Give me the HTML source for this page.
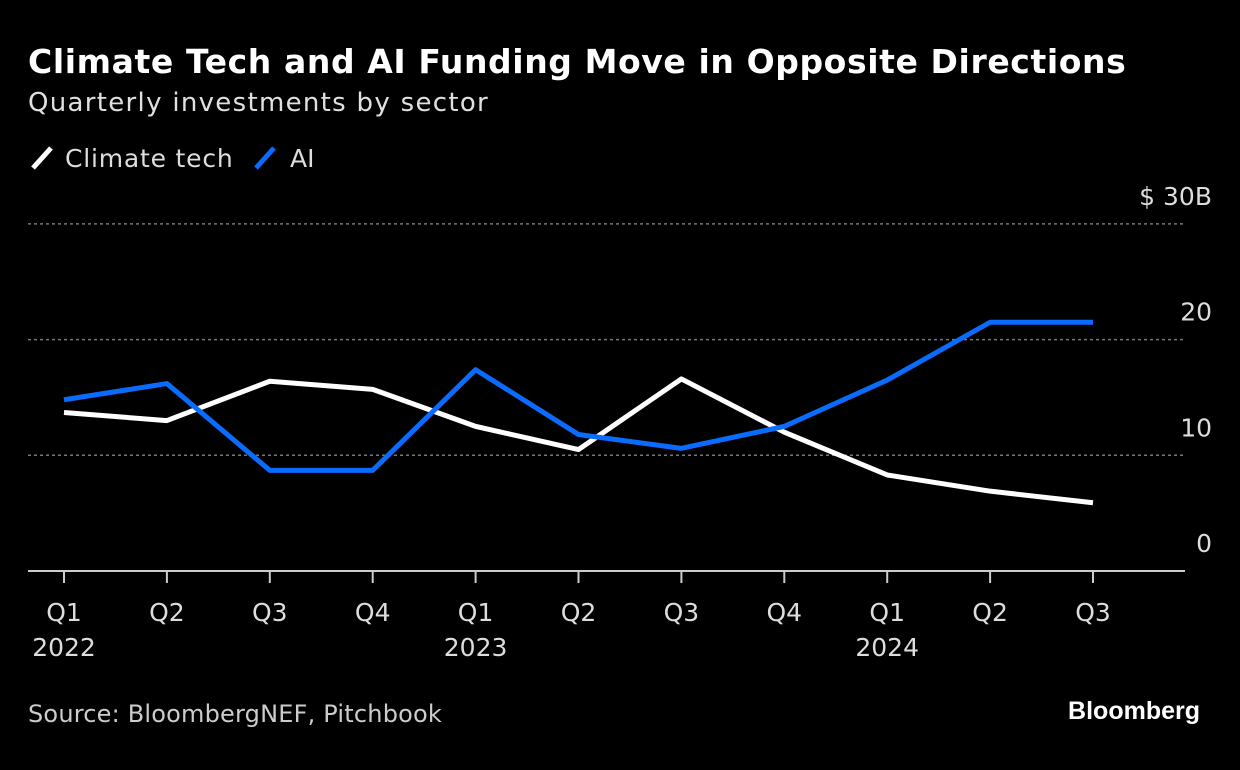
<!DOCTYPE html>
<html><head><meta charset="utf-8"><style>
body{margin:0;background:#000;width:1240px;height:770px;overflow:hidden;font-family:"Liberation Sans","DejaVu Sans",sans-serif;color:#fff}
</style></head><body>
<svg width="1240" height="770" style="position:absolute;left:0;top:0">
<text x="28" y="73" font-size="33" font-weight="bold" fill="#fff" letter-spacing="0.6" font-family="DejaVu Sans, sans-serif">Climate Tech and AI Funding Move in Opposite Directions</text>
<text x="28" y="111" font-size="26" fill="#e0e0e0" letter-spacing="1.3" font-family="DejaVu Sans, sans-serif">Quarterly investments by sector</text>
<g font-family="DejaVu Sans, sans-serif" font-size="25" fill="#ddd">
<line x1="33" y1="168" x2="51" y2="148" stroke="#fff" stroke-width="5"/>
<text x="65" y="167" letter-spacing="0.8">Climate tech</text>
<line x1="256" y1="168" x2="274" y2="148" stroke="#0a6cff" stroke-width="5"/>
<text x="290" y="167">AI</text>
</g>
<g id="grid"></g><g id="xaxis"></g><g id="lines"></g>
<text x="28" y="722" font-size="24" fill="#ccc" letter-spacing="0.2" font-family="DejaVu Sans, sans-serif">Source: BloombergNEF, Pitchbook</text>
<text x="1200" y="719" font-size="25" font-weight="bold" fill="#fff" text-anchor="end">Bloomberg</text>
</svg>
<script>
const quarters=["Q1","Q2","Q3","Q4","Q1","Q2","Q3","Q4","Q1","Q2","Q3"];
const years=["2022","","","","2023","","","","2024","",""];
const climate=[13.7,13.0,16.4,15.7,12.5,10.5,16.6,12.0,8.3,6.9,5.9];
const ai=[14.8,16.2,8.7,8.7,17.4,11.8,10.6,12.5,16.5,21.5,21.5];
const yTicks=[0,10,20,30];
const yLabels=["0","10","20","$ 30B"];
const NS="http://www.w3.org/2000/svg";
const x=i=>64+i*102.9;
const y=v=>571-v*11.57;
function mk(t,a,p){const e=document.createElementNS(NS,t);for(const k in a)e.setAttribute(k,a[k]);p.appendChild(e);return e;}
const grid=document.getElementById('grid');
yTicks.forEach((t,i)=>{
  if(t>0){const l=mk('line',{x1:28,x2:1185,y1:y(t),y2:y(t),stroke:'#777','stroke-width':1.5,'stroke-dasharray':'3,3'},grid);
  
  }
  const tx=mk('text',{x:1212,y:y(t)-19,'font-size':25,fill:'#ddd','text-anchor':'end','font-family':'DejaVu Sans, sans-serif'},grid);
  tx.textContent=yLabels[i];
  
  
});
const xa=document.getElementById('xaxis');
const base=mk('line',{x1:28,x2:1185,y1:571,y2:571,stroke:'#ccc','stroke-width':2},xa);


quarters.forEach((q,i)=>{
  const tk=mk('line',{x1:x(i),x2:x(i),y1:571,y2:583,stroke:'#ccc','stroke-width':2},xa);
  
  
  const t=mk('text',{x:x(i),y:621,'font-size':25,fill:'#ddd','text-anchor':'middle','font-family':'DejaVu Sans, sans-serif'},xa);
  t.textContent=q;
  
  
  if(years[i]){const yt=mk('text',{x:x(i),y:656,'font-size':25,fill:'#ddd','text-anchor':'middle','font-family':'DejaVu Sans, sans-serif'},xa);
  yt.textContent=years[i];
  
  }
});
const lg=document.getElementById('lines');
function line(d,c,n){const p=mk('polyline',{points:d.map((v,i)=>x(i)+','+y(v)).join(' '),fill:'none',stroke:c,'stroke-width':5,'stroke-linejoin':'round'},lg);

}
line(climate,'#fff','climate-tech-line');
line(ai,'#0a6cff','ai-line');
</script>
</body></html>
